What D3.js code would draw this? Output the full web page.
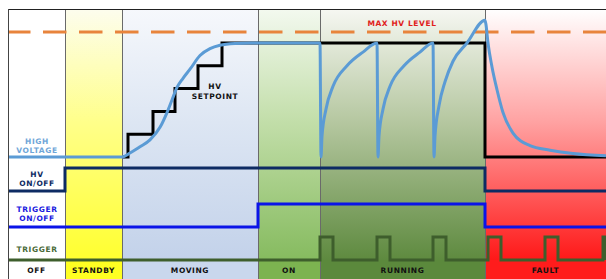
<!DOCTYPE html>
<html>
<head>
<meta charset="utf-8">
<script src="https://cdn.jsdelivr.net/npm/d3@7"></script>
<style>
  body { margin: 0; background: #fff; }
  svg { display: block; }
  text { font-family: "DejaVu Sans", Verdana, sans-serif; font-weight: bold; letter-spacing: 0.6px; }
</style>
</head>
<body>
<div id="chart"></div>
<script>
// Phases along the time axis (arbitrary time units)
var phases = ["OFF", "STANDBY", "MOVING", "ON", "RUNNING", "FAULT"];
var phaseStart = [0, 57, 114, 250, 312, 477];
var timeEnd = 598;

// Phase background colours: top of gradient, middle, bottom, label cell
var phaseTop = ["#ffffff", "#fdfdee", "#f6f8fc", "#f3f9ef", "#f6f7f2", "#ffffff"];
var phaseMid = ["#ffffff", "#ffff8a", "#dde6f3", "#c2dea9", "#b5c7a0", "#ffa2a2"];
var phaseBottom = ["#ffffff", "#ffff30", "#c3d2ea", "#86bb5f", "#5e8a3f", "#ff1818"];
var phaseCell = ["#ffffff", "#ffff22", "#c9d7ed", "#7cb350", "#5b893c", "#ff1c1c"];

// High voltage (0 = off, 1 = setpoint)
var hvTime = [0, 114, 122, 132, 142, 152, 159, 164, 169, 175, 182, 192, 202, 212, 227, 242, 312,
  313, 314, 318, 325, 339, 355, 369,
  370, 371, 375, 382, 396, 412, 425,
  426, 427, 431, 437, 445, 459, 477,
  478, 480, 484, 489, 495, 505, 522, 542, 565, 598];
var hvLevel = [0, 0, 0.035, 0.09, 0.15, 0.26, 0.39, 0.5, 0.61, 0.69, 0.77, 0.89, 0.95, 0.98, 0.996, 1, 1,
  0, 0.18, 0.42, 0.62, 0.8, 0.92, 1,
  0, 0.18, 0.42, 0.62, 0.8, 0.92, 1,
  0, 0.18, 0.45, 0.66, 0.84, 1.0, 1.2,
  1.16, 1.0, 0.79, 0.59, 0.39, 0.21, 0.1, 0.06, 0.03, 0.01];

// HV setpoint staircase
var setpointTime = [115, 120, 145, 167, 190, 214, 477, 598];
var setpointLevel = [0, 0.2, 0.4, 0.6, 0.8, 1, 0, 0];
var maxHvLevel = 1.096;

// Enables
var hvEnableTime = [0, 57, 477, 598];
var hvEnableLevel = [0, 1, 0, 0];
var trigEnableTime = [0, 250, 477, 598];
var trigEnableLevel = [0, 1, 0, 0];

// Trigger pulses
var triggerPulseStart = [312, 369, 425, 480, 537, 595];
var triggerPulseWidth = 13;

var W = 606, H = 279;
var frameTop = 9, plotBottom = 260, frameLeft = 8;

var svg = d3.select("#chart").append("svg").attr("width", W).attr("height", H);
var defs = svg.append("defs");

var x = d3.scaleLinear().domain([0, timeEnd]).range([frameLeft, W]);
var hvY = d3.scaleLinear().domain([0, 1]).range([157, 43]);
var hvEnY = d3.scaleLinear().domain([0, 1]).range([191, 168]);
var trEnY = d3.scaleLinear().domain([0, 1]).range([227, 204]);
var trY = d3.scaleLinear().domain([0, 1]).range([260, 237]);

var phaseData = phases.map(function (p, i) {
  return { name: p, start: phaseStart[i], end: i < phases.length - 1 ? phaseStart[i + 1] : timeEnd, i: i };
});

// gradients
phaseData.forEach(function (d) {
  var g = defs.append("linearGradient").attr("id", "grad" + d.i)
    .attr("x1", 0).attr("y1", 0).attr("x2", 0).attr("y2", 1);
  g.append("stop").attr("offset", "0%").attr("stop-color", phaseTop[d.i]);
  g.append("stop").attr("offset", "45%").attr("stop-color", phaseMid[d.i]);
  g.append("stop").attr("offset", "100%").attr("stop-color", phaseBottom[d.i]);
});

svg.append("g").selectAll("rect").data(phaseData).join("rect")
  .attr("x", function (d) { return x(d.start); })
  .attr("y", frameTop)
  .attr("width", function (d) { return x(d.end) - x(d.start); })
  .attr("height", plotBottom - frameTop)
  .attr("fill", function (d) { return "url(#grad" + d.i + ")"; });

svg.append("g").selectAll("rect").data(phaseData).join("rect")
  .attr("x", function (d) { return x(d.start); })
  .attr("y", plotBottom)
  .attr("width", function (d) { return x(d.end) - x(d.start); })
  .attr("height", H - plotBottom)
  .attr("fill", function (d) { return phaseCell[d.i]; });

// separators
svg.append("g").selectAll("line").data(phaseStart.slice(1)).join("line")
  .attr("x1", function (d) { return x(d) + 0.5; })
  .attr("x2", function (d) { return x(d) + 0.5; })
  .attr("y1", frameTop).attr("y2", H)
  .attr("stroke", "#6a6a6a").attr("stroke-width", 1);

// max HV level
svg.append("line")
  .attr("x1", x(0)).attr("x2", x(timeEnd))
  .attr("y1", hvY(maxHvLevel)).attr("y2", hvY(maxHvLevel))
  .attr("stroke", "#e8843c").attr("stroke-width", 3)
  .attr("stroke-dasharray", "23.5,12.5").attr("stroke-dashoffset", 1);

svg.append("text")
  .attr("x", 402).attr("y", hvY(maxHvLevel) - 9).attr("dy", "0.35em")
  .attr("text-anchor", "middle").attr("font-size", 7.5).attr("fill", "#e0201b")
  .text("MAX HV LEVEL");

function stepLine(times, levels, yScale) {
  return d3.line()
    .x(function (d, i) { return x(times[i]); })
    .y(function (d, i) { return yScale(levels[i]); })
    .curve(d3.curveStepAfter)(times);
}

// trigger pulses as a step series
var trigTime = [0], trigLevel = [0];
triggerPulseStart.forEach(function (s) {
  trigTime.push(s, Math.min(s + triggerPulseWidth, timeEnd));
  trigLevel.push(1, 0);
});
trigTime.push(timeEnd); trigLevel.push(trigLevel[trigLevel.length - 1]);

svg.append("path").attr("d", stepLine(trigTime, trigLevel, trY))
  .attr("fill", "none").attr("stroke", "#3e5e2c").attr("stroke-width", 3);
svg.append("path").attr("d", stepLine(trigEnableTime, trigEnableLevel, trEnY))
  .attr("fill", "none").attr("stroke", "#0a14e8").attr("stroke-width", 3);
svg.append("path").attr("d", stepLine(hvEnableTime, hvEnableLevel, hvEnY))
  .attr("fill", "none").attr("stroke", "#0d2b63").attr("stroke-width", 3);
svg.append("path").attr("d", stepLine(setpointTime, setpointLevel, hvY))
  .attr("fill", "none").attr("stroke", "#000").attr("stroke-width", 3);

var hvLine = d3.line()
  .x(function (d, i) { return x(hvTime[i]); })
  .y(function (d, i) { return hvY(hvLevel[i]); })
  .curve(d3.curveMonotoneX);
svg.append("path").attr("d", hvLine(hvTime))
  .attr("fill", "none").attr("stroke", "#5b9bd5").attr("stroke-width", 3)
  .attr("stroke-linejoin", "round");

// row labels
var rowLabels = [
  { lines: ["HIGH", "VOLTAGE"], y: 141, color: "#6fa6d8" },
  { lines: ["HV", "ON/OFF"], y: 174, color: "#0d2b63" },
  { lines: ["TRIGGER", "ON/OFF"], y: 209, color: "#1a1ae0" },
  { lines: ["TRIGGER"], y: 249, color: "#4a6a38" }
];
rowLabels.forEach(function (r) {
  r.lines.forEach(function (t, j) {
    svg.append("text")
      .attr("x", 37).attr("y", r.y + j * 9.5).attr("dy", "0.35em")
      .attr("text-anchor", "middle").attr("font-size", 7.5).attr("fill", r.color)
      .text(t);
  });
});

svg.append("text").attr("x", 215).attr("y", 86).attr("dy", "0.35em")
  .attr("text-anchor", "middle").attr("font-size", 7.5).attr("fill", "#111").text("HV");
svg.append("text").attr("x", 215).attr("y", 96).attr("dy", "0.35em")
  .attr("text-anchor", "middle").attr("font-size", 7.5).attr("fill", "#111").text("SETPOINT");

// phase labels
svg.append("g").selectAll("text").data(phaseData).join("text")
  .attr("x", function (d) { return (x(d.start) + x(d.end)) / 2; })
  .attr("y", 270).attr("dy", "0.35em")
  .attr("text-anchor", "middle").attr("font-size", 7.5).attr("fill", "#111")
  .text(function (d) { return d.name; });

// frame
svg.append("line").attr("x1", frameLeft).attr("x2", W).attr("y1", frameTop + 0.5).attr("y2", frameTop + 0.5)
  .attr("stroke", "#222").attr("stroke-width", 1);
svg.append("line").attr("x1", frameLeft + 0.5).attr("x2", frameLeft + 0.5).attr("y1", frameTop).attr("y2", H)
  .attr("stroke", "#444").attr("stroke-width", 1);
</script>
</body>
</html>
